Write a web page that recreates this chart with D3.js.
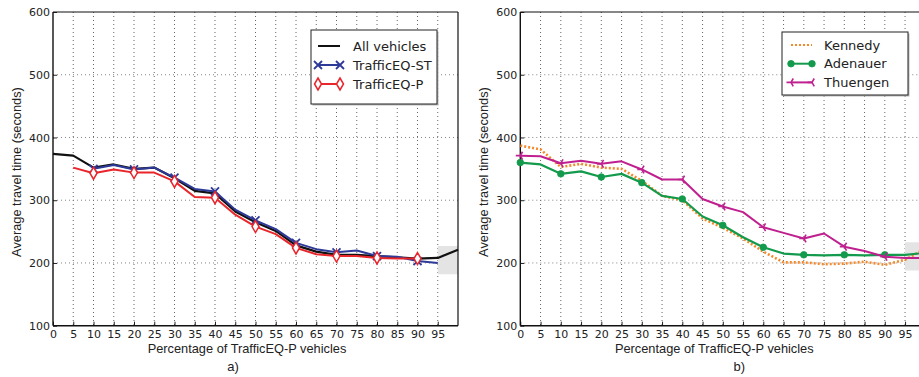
<!DOCTYPE html>
<html>
<head>
<meta charset="utf-8">
<script src="https://cdn.jsdelivr.net/npm/d3@7"></script>
<style>
  html, body { margin: 0; padding: 0; background: #fff; }
  svg { display: block; }
  .tick-label { font-family: "DejaVu Sans", sans-serif; font-size: 11px; fill: #222; }
  .axis-title { font-family: "Liberation Sans", Arial, sans-serif; font-size: 12.8px; fill: #222; }
  .legend-text { font-family: "DejaVu Sans", sans-serif; font-size: 13px; fill: #222; }
</style>
</head>
<body>
<svg id="chart" width="919" height="377"></svg>
<script>
// Percentage of TrafficEQ-P vehicles
const pct = [0, 5, 10, 15, 20, 25, 30, 35, 40, 45, 50, 55, 60, 65, 70, 75, 80, 85, 90, 95, 100];
const xTicks = [0, 5, 10, 15, 20, 25, 30, 35, 40, 45, 50, 55, 60, 65, 70, 75, 80, 85, 90, 95];
const yTicks = [100, 200, 300, 400, 500, 600];
const yGrid = [200, 300, 400, 500];

// Panel a) average travel time (s)
const allVehicles = [374, 371, 352, 357, 350, 352, 335, 315, 311, 282, 265, 251, 228, 218, 213, 213, 211, 209, 207, 208, 221];
const trafficEqST = [null, null, 350, 356, 349, 352, 336, 318, 314, 285, 268, 254, 232, 222, 217, 220, 211, 210, 203, 200, null];
const trafficEqP  = [null, 352, 343, 349, 344, 344, 330, 305, 304, 277, 258, 246, 224, 214, 211, 211, 208, 207, 207, null, null];

// Panel b) average travel time (s) per intersection
const kennedy   = [387, 381, 353, 358, 352, 350, 331, 307, 300, 271, 256, 239, 218, 201, 201, 198, 199, 202, 197, 205, 223];
const adenauer  = [360, 357, 342, 346, 337, 342, 328, 307, 302, 274, 260, 241, 225, 215, 213, 212, 213, 212, 213, 213, 216];
const thuengen  = [371, 370, 359, 363, 358, 362, 349, 333, 333, 302, 290, 281, 257, 248, 239, 247, 226, 219, 210, 208, 208];

// Shaded band at the right end of each panel
const bandA = { x0: 95, x1: 100, y0: 182, y1: 227 };
const bandB = { x0: 95, x1: 100, y0: 188, y1: 233 };

const svg = d3.select("#chart");

const C = {
  black: "#111111", blue: "#2e3a98", red: "#e8262c",
  orange: "#f5892a", green: "#139a4c", magenta: "#c0208f"
};

function panel(opts) {
  const x = d3.scaleLinear().domain([0, 100]).range([opts.left, opts.left + 405]);
  const y = d3.scaleLinear().domain([100, 600]).range([325.7, 12]);
  const g = svg.append("g");

  // grid
  g.selectAll(".vg").data(xTicks.filter(d => d > 0)).join("line")
    .attr("x1", d => x(d)).attr("x2", d => x(d))
    .attr("y1", y(600)).attr("y2", y(100))
    .attr("stroke", "#555").attr("stroke-width", 0.9).attr("stroke-dasharray", "1,3");
  g.selectAll(".hg").data(yGrid).join("line")
    .attr("x1", x(0)).attr("x2", x(100))
    .attr("y1", d => y(d)).attr("y2", d => y(d))
    .attr("stroke", "#777").attr("stroke-width", 0.9).attr("stroke-dasharray", "1,3");

  // shaded band
  const b = opts.band;
  g.append("rect")
    .attr("x", x(b.x0)).attr("y", y(b.y1))
    .attr("width", x(b.x1) - x(b.x0)).attr("height", y(b.y0) - y(b.y1))
    .attr("fill", "#e4e4e4");

  // axes with inward ticks
  const xAxis = d3.axisBottom(x).tickValues(xTicks).tickSize(-4).tickPadding(6).tickFormat(d3.format("d"));
  const gx = g.append("g").attr("transform", `translate(0,${y(100)})`).call(xAxis);
  const yAxis = d3.axisLeft(y).tickValues(yTicks).tickSize(-4).tickPadding(6);
  const gy = g.append("g").attr("transform", `translate(${x(0)},0)`).call(yAxis);
  [gx, gy].forEach(a => {
    a.select(".domain").remove();
    a.selectAll(".tick line").attr("stroke", "#222");
    a.selectAll(".tick text").attr("class", "tick-label").attr("fill", null);
  });
  gx.selectAll(".tick text").attr("dy", "0.55em");
  gy.selectAll(".tick text").attr("dx", "3px");

  // spines
  g.append("line").attr("x1", x(0)).attr("x2", x(100)).attr("y1", y(100)).attr("y2", y(100))
    .attr("stroke", "#111").attr("stroke-width", 1.4);
  g.append("line").attr("x1", x(0)).attr("x2", x(100)).attr("y1", y(600)).attr("y2", y(600))
    .attr("stroke", "#111").attr("stroke-width", 1.2);
  g.append("line").attr("x1", x(0)).attr("x2", x(0)).attr("y1", y(600)).attr("y2", y(100))
    .attr("stroke", "#111").attr("stroke-width", 1.4);
  g.append("line").attr("x1", x(100)).attr("x2", x(100)).attr("y1", y(600)).attr("y2", y(100))
    .attr("stroke", "#111").attr("stroke-width", 1.2);

  // titles
  g.append("text").attr("class", "axis-title")
    .attr("x", opts.left + 194).attr("y", 353).attr("text-anchor", "middle")
    .text("Percentage of TrafficEQ-P vehicles");
  g.append("text").attr("class", "axis-title").style("font-size", "13px")
    .attr("x", opts.left + opts.tagOffset).attr("y", 371).attr("text-anchor", "middle")
    .text(opts.tag);
  g.append("text").attr("class", "axis-title")
    .attr("transform", `translate(${opts.left - 32},${172}) rotate(-90)`)
    .attr("text-anchor", "middle")
    .text("Average travel time (seconds)");

  return { g, x, y };
}

function drawSeries(p, values, style) {
  const pts = pct.map((d, i) => [d, values[i]]).filter(d => d[1] != null);
  const line = d3.line().x(d => p.x(d[0])).y(d => p.y(d[1]));
  p.g.append("path").datum(pts).attr("d", line)
    .attr("fill", "none").attr("stroke", style.color)
    .attr("stroke-width", style.width || 2)
    .attr("stroke-dasharray", style.dash || null)
    .attr("stroke-linejoin", "round");
  if (style.marker) {
    const mp = pts.filter(d => style.markEvery.includes(d[0]));
    mp.forEach(d => drawMarker(p.g, style.marker, p.x(d[0]), p.y(d[1]), style.color));
  }
}

function drawMarker(g, type, cx, cy, color) {
  if (type === "x") {
    const s = 4;
    g.append("path").attr("d", `M${cx - s},${cy - s}L${cx + s},${cy + s}M${cx - s},${cy + s}L${cx + s},${cy - s}`)
      .attr("stroke", color).attr("stroke-width", 1.8).attr("fill", "none");
  } else if (type === "diamond") {
    g.append("path").attr("d", `M${cx},${cy - 6}L${cx + 3.5},${cy}L${cx},${cy + 6}L${cx - 3.5},${cy}Z`)
      .attr("stroke", color).attr("stroke-width", 1.5).attr("fill", "#fff");
  } else if (type === "dot") {
    g.append("circle").attr("cx", cx).attr("cy", cy).attr("r", 3.3)
      .attr("fill", color).attr("stroke", color).attr("stroke-width", 0.8);
  } else if (type === "tri") {
    const s = 4.5;
    g.append("path")
      .attr("d", `M${cx},${cy}L${cx - s},${cy}M${cx},${cy}L${cx + s * 0.5},${cy - s * 0.87}M${cx},${cy}L${cx + s * 0.5},${cy + s * 0.87}`)
      .attr("stroke", color).attr("stroke-width", 1.6).attr("fill", "none");
  }
}

function legend(p, box, items) {
  const lg = p.g.append("g");
  lg.append("rect").attr("x", box.x + 1.5).attr("y", box.y + 1.5)
    .attr("width", box.w).attr("height", box.h).attr("fill", "#bbb");
  lg.append("rect").attr("x", box.x).attr("y", box.y)
    .attr("width", box.w).attr("height", box.h)
    .attr("fill", "#fff").attr("stroke", "#222").attr("stroke-width", 1);
  items.forEach((it, i) => {
    const cy = box.y + box.first + i * box.step;
    lg.append("line").attr("x1", box.lx0).attr("x2", box.lx1).attr("y1", cy).attr("y2", cy)
      .attr("stroke", it.color).attr("stroke-width", it.width || 2)
      .attr("stroke-dasharray", it.dash || null);
    if (it.marker) {
      drawMarker(lg, it.marker, box.lx0, cy, it.color);
      drawMarker(lg, it.marker, box.lx1, cy, it.color);
    }
    lg.append("text").attr("class", "legend-text")
      .attr("x", box.tx).attr("y", cy).attr("dy", "0.35em").text(it.label);
  });
}

const every10 = [0, 10, 20, 30, 40, 50, 60, 70, 80, 90];

// Panel a)
const pa = panel({ left: 53, band: bandA, tag: "a)", tagOffset: 180 });
drawSeries(pa, allVehicles, { color: C.black, width: 2.2 });
drawSeries(pa, trafficEqST, { color: C.blue, width: 2, marker: "x", markEvery: every10 });
drawSeries(pa, trafficEqP, { color: C.red, width: 2, marker: "diamond", markEvery: every10 });
legend(pa, { x: 311, y: 30, w: 126, h: 74, first: 16, step: 19, lx0: 318, lx1: 340, tx: 353 }, [
  { label: "All vehicles", color: C.black },
  { label: "TrafficEQ-ST", color: C.blue, marker: "x" },
  { label: "TrafficEQ-P", color: C.red, marker: "diamond" }
]);

// Panel b)
const pb = panel({ left: 520.3, band: bandB, tag: "b)", tagOffset: 219 });
drawSeries(pb, kennedy, { color: C.orange, width: 2.6, dash: "2,2" });
drawSeries(pb, adenauer, { color: C.green, width: 2.2, marker: "dot", markEvery: every10 });
drawSeries(pb, thuengen, { color: C.magenta, width: 2, marker: "tri", markEvery: every10 });
legend(pb, { x: 782, y: 32, w: 126, h: 63, first: 13, step: 18.7, lx0: 791, lx1: 812, tx: 824 }, [
  { label: "Kennedy", color: C.orange, dash: "2,2" },
  { label: "Adenauer", color: C.green, marker: "dot" },
  { label: "Thuengen", color: C.magenta, marker: "tri" }
]);
</script>
</body>
</html>
